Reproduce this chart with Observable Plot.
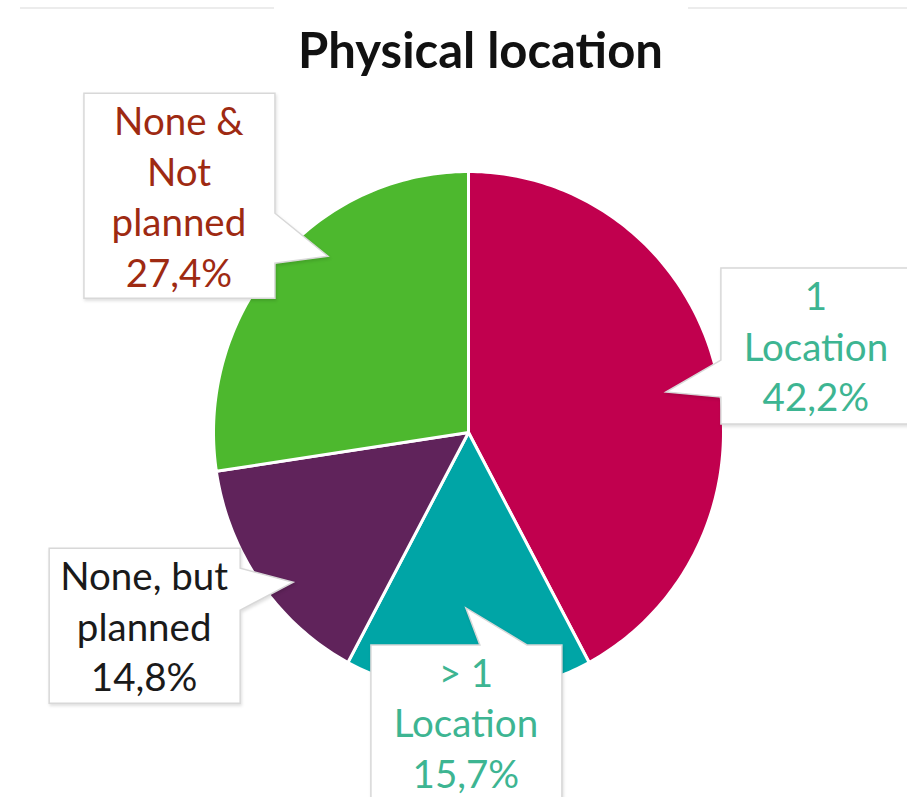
<!DOCTYPE html>
<html>
<head>
<meta charset="utf-8">
<script src="https://cdn.jsdelivr.net/npm/d3@7"></script>
<script src="https://cdn.jsdelivr.net/npm/@observablehq/plot@0.6"></script>
<style>
  html, body { margin: 0; padding: 0; background: #fff; }
  #chart { width: 907px; height: 797px; overflow: hidden; }
  svg { font-family: Lato, "Open Sans", sans-serif; }
</style>
</head>
<body>
<div id="chart"></div>
<script>
// ---- data ----
const title = "Physical location";
const categories = ["1 Location", "> 1 Location", "None, but planned", "None & Not planned"];
const shares = [42.2, 15.7, 14.8, 27.4];
const labelLines = [
  ["1", "Location", "42,2%"],
  ["> 1", "Location", "15,7%"],
  ["None, but", "planned", "14,8%"],
  ["None &", "Not", "planned", "27,4%"]
];
const sliceColors = ["#C1004E", "#00A5A6", "#60235B", "#4DB82E"];
const labelColors = ["#3DB592", "#3DB592", "#1A1A1A", "#9E2A12"];

// ---- layout (callout geometry, pixels relative to pointer tip) ----
const calloutLayout = [
  {tipAngle: 78.85, tipR: 0.791, dx: 55, dy: -124, w: 200, h: 156, side: "left", b0: 92, b1: 129},
  {tipAngle: 180.7, tipR: 0.674, dx: -95, dy: 37, w: 191, h: 200, side: "top", b0: 109, b1: 156},
  {tipAngle: 230.0, tipR: 0.895, dx: -244, dy: -34, w: 191, h: 155, side: "right", b0: 20, b1: 62},
  {tipAngle: 320.8, tipR: 0.869, dx: -244, dy: -163, w: 191, h: 205, side: "right", b0: 120, b1: 170}
];

// ---- build slice polygons from the shares ----
const total = d3.sum(shares);
const rad = a => a * Math.PI / 180;
const polyPoints = [];
let cum = 0;
categories.forEach((cat, i) => {
  const a0 = cum / total * 360;
  cum += shares[i];
  const a1 = cum / total * 360;
  polyPoints.push({cat, x: 0, y: 0});
  const n = Math.max(2, Math.ceil(a1 - a0));
  for (let k = 0; k <= n; ++k) {
    const a = a0 + (a1 - a0) * k / n;
    polyPoints.push({cat, x: Math.sin(rad(a)), y: Math.cos(rad(a))});
  }
});

const callouts = categories.map((cat, i) => {
  const L = calloutLayout[i];
  return {
    cat, lines: labelLines[i], color: labelColors[i], ...L,
    tx: L.tipR * Math.sin(rad(L.tipAngle)),
    ty: L.tipR * Math.cos(rad(L.tipAngle))
  };
});

function calloutMark(data) {
  return (index, scales, values, dims, context) => {
    const g = d3.select(context.document.createElementNS("http://www.w3.org/2000/svg", "g"));
    // decorative thin rules at top
    g.append("line").attr("x1", 20).attr("x2", 274).attr("y1", 8).attr("y2", 8)
      .attr("stroke", "#e6e6e6").attr("stroke-width", 1.5);
    g.append("line").attr("x1", 688).attr("x2", 907).attr("y1", 8).attr("y2", 8)
      .attr("stroke", "#e6e6e6").attr("stroke-width", 1.5);
    for (const d of data) {
      const px = scales.x(d.tx), py = scales.y(d.ty);
      const L = px + d.dx, T = py + d.dy, R = L + d.w, B = T + d.h;
      let p;
      if (d.side === "right") {
        p = `M${L},${T}H${R}V${T + d.b0}L${px},${py}L${R},${T + d.b1}V${B}H${L}Z`;
      } else if (d.side === "left") {
        p = `M${L},${T}H${R}V${B}H${L}V${T + d.b1}L${px},${py}L${L},${T + d.b0}Z`;
      } else {
        p = `M${L},${T}H${L + d.b0}L${px},${py}L${L + d.b1},${T}H${R}V${B}H${L}Z`;
      }
      g.append("path").attr("d", p)
        .attr("fill", "white")
        .attr("stroke", "#d8d8d8")
        .attr("stroke-width", 1.5)
        .attr("stroke-linejoin", "miter")
        .style("filter", "drop-shadow(1px 2px 1.5px rgba(0,0,0,0.12))");
      const cx = L + 95;
      d.lines.forEach((line, k) => {
        g.append("text")
          .attr("x", cx)
          .attr("y", T + 42 + 50.5 * k)
          .attr("text-anchor", "middle")
          .attr("fill", d.color)
          .attr("font-size", 38.5)
          .attr("font-family", "Lato, 'Open Sans', sans-serif")
          .text(line);
      });
    }
    return g.node();
  };
}

const chart = Plot.plot({
  width: 907,
  height: 797,
  marginLeft: 213,
  marginRight: 184,
  marginTop: 171,
  marginBottom: 104,
  x: {domain: [-1, 1], axis: null},
  y: {domain: [-1, 1], axis: null},
  color: {domain: categories, range: sliceColors},
  marks: [
    Plot.line(polyPoints, {
      x: "x", y: "y", z: "cat", fill: "cat",
      stroke: "white", strokeWidth: 3, strokeLinejoin: "round",
      curve: "linear-closed"
    }),
    calloutMark(callouts),
    Plot.text([title], {
      frameAnchor: "top", dx: 12, dy: -104, lineAnchor: "bottom",
      fontSize: 49, fontWeight: "bold", fill: "#111",
      fontFamily: "Lato, 'Open Sans', sans-serif"
    })
  ]
});
document.getElementById("chart").appendChild(chart);
</script>
</body>
</html>
